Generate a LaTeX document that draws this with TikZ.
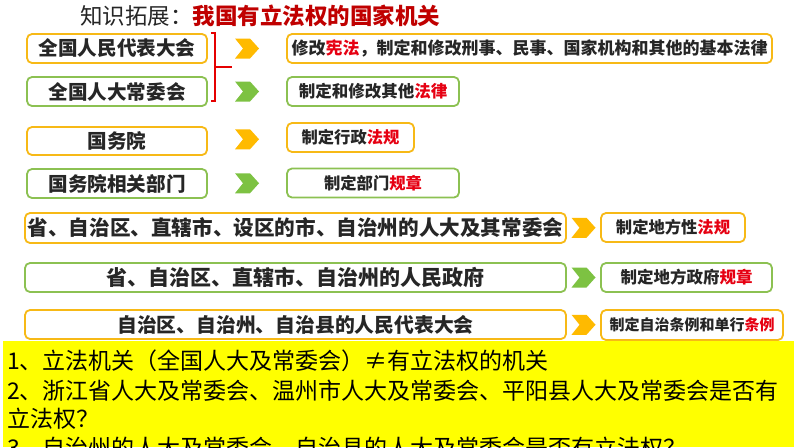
\documentclass[tikz,border=0pt]{standalone}
\usepackage{fontspec}
\setmainfont{Noto Sans CJK SC}
\usepackage{tikz}
\usetikzlibrary{positioning}

\definecolor{orgline}{HTML}{F7B916}
\definecolor{grnline}{HTML}{8CC152}
\definecolor{orgchev}{HTML}{FFBA00}
\definecolor{grnchev}{HTML}{7DC242}
\definecolor{lawred}{HTML}{E60012}
\definecolor{titlered}{HTML}{C00000}
\definecolor{txtgray}{HTML}{262626}
\definecolor{notebg}{HTML}{FFFF00}

\newcommand{\fs}[1]{\fontsize{#1}{#1}\selectfont}
\newcommand{\hl}[1]{\textcolor{lawred}{#1}}

\tikzset{
  organ/.style={draw=#1, line width=1.8pt, rounded corners=5pt, fill=white,
    inner sep=0pt, minimum height=29pt, text=txtgray},
  note/.style={anchor=west, inner sep=0pt, text=black, font=\fs{23}},
  brk/.style={draw=red!90!black, line width=1.3pt},
  chev/.pic={\fill (-12,-10) -- (3,-10) -- (12,0) -- (3,10) -- (-12,10) -- (-4,0) -- cycle;}
}

\begin{document}
\begin{tikzpicture}[x=1pt, y=-1pt]
  \useasboundingbox[fill=white] (0,0) rectangle (794,447);
  % title
  \node[anchor=west, inner sep=0pt, text=txtgray, font=\fs{22.5}] (title) at (80,16)
    {知识拓展：\textcolor{titlered}{\bfseries 我国有立法权的国家机关}};
  % row 1 - NPC
  \node[organ=orgline, minimum width=180pt, font=\bfseries\fs{19.6}] (l1) at (117,48.5) {全国人民代表大会};
  \node[organ=orgline, minimum width=485pt, font=\bfseries\fs{17}] (r1) at (529.5,48.5)
    {修改\hl{宪法}，制定和修改刑事、民事、国家机构和其他的基本法律};
  % row 2 - NPC standing committee
  \node[organ=grnline, minimum width=180pt, font=\bfseries\fs{19.6}] (l2) at (117,91.5) {全国人大常委会};
  \node[organ=grnline, minimum width=172pt, font=\bfseries\fs{16.5}] (r2) at (373,91.5) {制定和修改其他\hl{法律}};
  % bracket round rows 1 and 2
  \coordinate (bk) at (215,67);
  \draw[brk] ([xshift=3pt]l1.north east) -| (bk) |- ([xshift=3pt,yshift=6pt]l2.south east);
  \draw[brk] (bk) -- ++(17,0);
  % row 3 - state council
  \node[organ=orgline, minimum width=180pt, minimum height=28pt, font=\bfseries\fs{19.6}] (l3) at (117,141) {国务院};
  \node[organ=orgline, minimum width=127pt, font=\bfseries\fs{16.3}] (r3) at (350.5,137.5) {制定行政\hl{法规}};
  % row 4 - ministries
  \node[organ=grnline, minimum width=180pt, font=\bfseries\fs{19.6}] (l4) at (117,183.5) {国务院相关部门};
  \node[organ=grnline, minimum width=172pt, font=\bfseries\fs{16.3}] (r4) at (373,183) {制定部门\hl{规章}};
  % row 5 - local congresses
  \node[organ=orgline, minimum width=541pt, minimum height=30pt, font=\bfseries\fs{20.6}] (l5) at (295.5,228)
    {省、自治区、直辖市、设区的市、自治州的人大及其常委会};
  \node[organ=orgline, minimum width=144pt, font=\bfseries\fs{16.3}] (r5) at (673,227.5) {制定地方性\hl{法规}};
  % row 6 - local governments
  \node[organ=grnline, minimum width=541pt, font=\bfseries\fs{21}] (l6) at (295.5,277.5)
    {省、自治区、直辖市、自治州的人民政府};
  \node[organ=grnline, minimum width=171pt, font=\bfseries\fs{16.5}] (r6) at (686.5,277.5) {制定地方政府\hl{规章}};
  % row 7 - autonomous areas
  \node[organ=orgline, minimum width=541pt, font=\bfseries\fs{19.8}] (l7) at (295.5,324.5)
    {自治区、自治州、自治县的人民代表大会};
  \node[organ=orgline, minimum width=182pt, minimum height=30pt, font=\bfseries\fs{15}] (r7) at (692,325) {制定自治条例和单行\hl{条例}};
  % chevrons between the columns
  \path (l1.east) -- coordinate (c1) (r1.west);
  \path (l2.east) -- coordinate (c2) (r2.west);
  \path (l3.east) -- coordinate (c3) (r3.west);
  \path (l4.east) -- coordinate (c4) (r4.west);
  \path (l5.east) -- coordinate (c5) (r5.west);
  \path (l6.east) -- coordinate (c6) (r6.west);
  \path (l7.east) -- coordinate (c7) (r7.west);
  \pic[fill=orgchev] at (c1) {chev};
  \pic[fill=grnchev] at (c2) {chev};
  \pic[fill=orgchev] at (c3) {chev};
  \pic[fill=grnchev] at (c4) {chev};
  \pic[fill=orgchev] at (c5) {chev};
  \pic[fill=grnchev] at (c6) {chev};
  \pic[fill=orgchev] at (c7) {chev};
  % questions on yellow
  \fill[notebg] (3,341) rectangle (794,447);
  \node[note] (q1) at (7,361) {1、立法机关（全国人大及常委会）≠有立法权的机关};
  \node[note] (q2) at (7,391) {2、浙江省人大及常委会、温州市人大及常委会、平阳县人大及常委会是否有};
  \node[note] (q2b) at (7,419) {立法权？};
  \node[note] (q3) at (7,448) {3、自治州的人大及常委会、自治县的人大及常委会是否有立法权？};
\end{tikzpicture}
\end{document}
